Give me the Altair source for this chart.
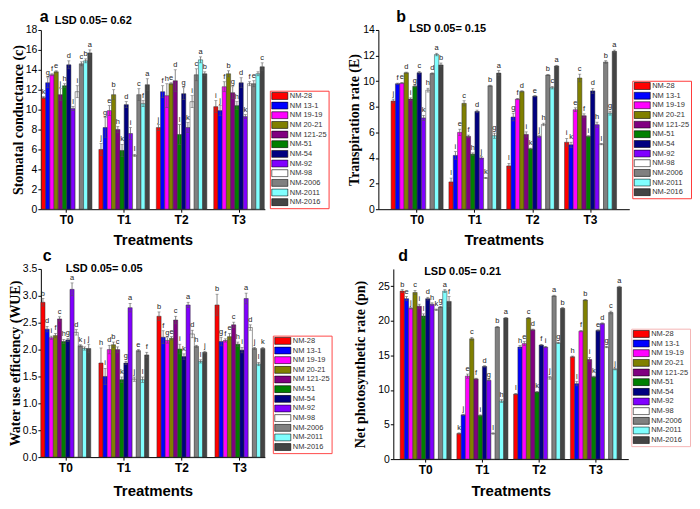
import altair as alt
import pandas as pd

treatments = ["T0", "T1", "T2", "T3"]
genotypes = ["NM-28", "NM 13-1", "NM 19-19", "NM 20-21", "NM 121-25", "NM-51",
             "NM-54", "NM-92", "NM-98", "NM-2006", "NM-2011", "NM-2016"]
colors = ["#ff0000", "#0000ff", "#ff00ff", "#808000", "#800080", "#008000",
          "#000080", "#8000ff", "#ffffff", "#808080", "#80ffff", "#444444"]

# (a) Stomatal conductance
sc_values = [
    [11.2, 12.7, 13.5, 13.8, 11.5, 12.4, 14.5, 10.1, 11.8, 14.6, 14.9, 15.7],
    [6.0, 8.2, 9.9, 11.5, 8.0, 5.9, 10.5, 7.6, 5.4, 11.5, 10.6, 12.5],
    [8.2, 11.8, 11.4, 12.6, 12.9, 7.5, 11.6, 8.2, 10.8, 13.5, 15.0, 13.6],
    [10.3, 9.9, 12.3, 13.6, 11.7, 10.4, 12.7, 9.3, 12.6, 12.6, 13.6, 14.3],
]
sc_errors = [
    [0.1, 0.5, 0.1, 0.1, 0.6, 0.2, 0.4, 0.2, 0.6, 0.2, 0.2, 0.3],
    [0.6, 1.0, 0.5, 0.5, 0.3, 0.6, 0.3, 0.6, 0.1, 0.6, 0.3, 0.6],
    [0.3, 0.6, 1.2, 0.1, 1.1, 1.0, 0.6, 0.5, 0.6, 0.6, 0.3, 0.2],
    [0.6, 0.5, 0.5, 0.3, 0.6, 0.4, 0.5, 0.2, 0.2, 0.3, 0.2, 0.4],
]
sc_letters = [
    ["k", "g", "f", "e", "j", "h", "d", "l", "i", "c", "b", "a"],
    ["j", "g", "e", "b", "h", "k", "d", "i", "l", "c", "f", "a"],
    ["j", "f", "h", "e", "d", "l", "g", "k", "i", "c", "a", "b"],
    ["i", "j", "f", "b", "g", "h", "d", "k", "f", "e", "", "c"],
]

# (b) Transpiration rate
tr_values = [
    [8.45, 9.8, 9.85, 10.66, 8.6, 9.6, 10.66, 7.13, 9.3, 10.6, 12.08, 11.27],
    [2.13, 4.2, 6.0, 8.27, 5.69, 4.3, 7.64, 4.0, 2.44, 9.64, 5.74, 10.63],
    [3.38, 7.2, 8.6, 9.2, 5.84, 4.72, 8.83, 5.69, 6.62, 10.48, 9.49, 11.19],
    [5.23, 5.03, 7.77, 10.25, 7.3, 5.69, 9.24, 6.6, 5.08, 11.5, 7.5, 12.33],
]
tr_errors = [
    [0.15, 0.05, 0.05, 0.05, 0.1, 0.05, 0.1, 0.2, 0.15, 0.05, 0.1, 0.15],
    [0.3, 0.3, 0.25, 0.2, 0.1, 0.1, 0.1, 0.1, 0.05, 0.05, 0.2, 0.2],
    [0.2, 0.3, 0.05, 0.05, 0.2, 0.05, 0.05, 0.1, 0.1, 0.05, 0.1, 0.05],
    [0.3, 0.2, 0.15, 0.3, 0.15, 0.05, 0.2, 0.2, 0.05, 0.1, 0.15, 0.1],
]
tr_letters = [
    ["j", "f", "e", "d", "i", "g", "c", "k", "h", "d", "a", "b"],
    ["l", "i", "e", "c", "f", "h", "d", "j", "k", "b", "g", "a"],
    ["l", "g", "f", "d", "i", "k", "e", "j", "h", "b", "c", "a"],
    ["i", "k", "e", "c", "f", "i", "d", "h", "l", "b", "g", "a"],
]

# (c) Water use efficiency
wue_values = [
    [2.88, 2.38, 2.22, 2.26, 2.57, 2.15, 2.18, 3.12, 2.32, 2.07, 2.02, 2.02],
    [1.75, 1.5, 2.0, 2.09, 2.0, 1.44, 1.75, 2.78, 1.45, 1.98, 1.44, 1.9],
    [2.62, 2.23, 2.17, 2.21, 2.55, 2.01, 1.87, 2.83, 2.29, 2.06, 1.78, 1.95],
    [2.83, 2.15, 2.17, 2.24, 2.46, 2.1, 1.99, 2.95, 2.41, 2.02, 1.73, 2.02],
]
wue_errors = [
    [0.07, 0.05, 0.03, 0.04, 0.04, 0.04, 0.03, 0.12, 0.05, 0.02, 0.03, 0.08],
    [0.28, 0.15, 0.08, 0.05, 0.05, 0.05, 0.03, 0.08, 0.04, 0.02, 0.05, 0.05],
    [0.08, 0.12, 0.05, 0.03, 0.07, 0.09, 0.05, 0.05, 0.07, 0.02, 0.03, 0.02],
    [0.2, 0.08, 0.03, 0.06, 0.05, 0.04, 0.05, 0.1, 0.05, 0.02, 0.03, 0.02],
]
wue_letters = [
    ["b", "d", "i", "f", "c", "h", "g", "a", "d", "k", "l", "j"],
    ["h", "i", "d", "b", "c", "k", "g", "a", "j", "e", "l", "f"],
    ["b", "f", "g", "e", "c", "i", "k", "a", "d", "h", "l", "j"],
    ["b", "g", "f", "e", "c", "h", "i", "a", "d", "j", "l", "k"],
]

# (d) Net photosynthetic rate
pn_values = [
    [24.3, 23.2, 21.8, 24.1, 22.1, 20.7, 23.2, 22.4, 21.6, 22.0, 24.3, 22.8],
    [3.7, 6.4, 12.0, 17.4, 11.6, 6.3, 13.4, 11.4, 3.7, 19.1, 8.4, 20.4],
    [9.4, 16.2, 16.7, 20.4, 18.7, 9.7, 16.5, 16.2, 11.75, 23.6, 16.8, 21.8],
    [14.8, 10.9, 18.5, 23.0, 14.4, 11.9, 18.6, 19.6, 16.2, 21.2, 13.0, 24.9],
]
pn_errors = [
    [0.2, 0.3, 0.1, 0.3, 0.3, 0.3, 0.2, 0.2, 0.1, 0.1, 0.2, 0.7],
    [0.1, 0.1, 0.3, 0.2, 0.1, 0.1, 0.1, 0.1, 0.1, 0.1, 0.2, 0.1],
    [0.1, 0.2, 0.3, 0.1, 0.1, 0.1, 0.1, 0.1, 0.2, 0.1, 0.1, 0.1],
    [0.1, 0.3, 0.1, 0.1, 0.3, 0.1, 0.1, 0.1, 0.1, 0.2, 0.1, 0.1],
]
pn_letters = [
    ["b", "e", "j", "c", "i", "l", "d", "h", "k", "g", "a", "f"],
    ["k", "j", "e", "c", "f", "i", "d", "g", "l", "b", "h", "a"],
    ["l", "h", "e", "c", "d", "k", "f", "i", "j", "a", "g", "b"],
    ["h", "l", "f", "b", "i", "k", "e", "d", "g", "c", "j", "a"],
]

FONT = "Liberation Sans"
SERIF = "Liberation Serif"


def make_df(values, errors, letters):
    rows = []
    for ti, t in enumerate(treatments):
        for gi, g in enumerate(genotypes):
            v = values[ti][gi]
            e = errors[ti][gi]
            rows.append({"Treatment": t, "Genotype": g, "value": v,
                         "lo": v - e, "hi": v + e, "letter": letters[ti][gi]})
    return pd.DataFrame(rows)


def panel(values, errors, letters, ymax, ticks, fmt, ytitle, tag, lsd,
          width, height, pad_in, pad_out, ytp, xtp, legx, legy, legstroke,
          tagx, tagy, lsdx, lsdy):
    df = make_df(values, errors, letters)
    yscale = alt.Scale(domain=[0, ymax], nice=False, zero=True)
    yaxis = alt.Axis(values=ticks, format=fmt, title=ytitle, titleFont=SERIF,
                     titleFontSize=14, titleFontWeight="bold", titlePadding=ytp,
                     labelFont=FONT, labelFontSize=10.5, labelColor="black",
                     labelOverlap=False, tickSize=3, tickColor="black",
                     domainColor="black", grid=False, labelPadding=1)
    xaxis = alt.Axis(title="Treatments", labelAngle=0, labelFont=FONT,
                     labelFontSize=12, labelFontWeight="bold", labelColor="black",
                     titleFont=FONT, titleFontSize=15, titleFontWeight="bold",
                     titlePadding=xtp, tickSize=3, tickColor="black",
                     domainColor="black", labelPadding=2)
    base = alt.Chart(df).encode(
        x=alt.X("Treatment:N", sort=treatments, axis=xaxis,
                scale=alt.Scale(paddingInner=pad_in, paddingOuter=pad_out)),
        xOffset=alt.XOffset("Genotype:N", sort=genotypes,
                            scale=alt.Scale(paddingInner=0, paddingOuter=0)),
    )
    bars = base.mark_bar(stroke="#333333", strokeWidth=0.5).encode(
        y=alt.Y("value:Q", scale=yscale, axis=yaxis),
        color=alt.Color("Genotype:N", sort=genotypes,
                        scale=alt.Scale(domain=genotypes, range=colors),
                        legend=alt.Legend(
                            orient="none", legendX=legx, legendY=legy,
                            title=None, strokeColor=legstroke,
                            padding=1, symbolType="M-2.3,-1L2.3,-1L2.3,1L-2.3,1Z",
                            symbolSize=49, symbolOffset=5,
                            symbolStrokeColor="black",
                            symbolStrokeWidth=0.6, labelFont=FONT,
                            labelFontSize=7.5, labelColor="#333333",
                            clipHeight=8.5, rowPadding=0.7, labelOffset=6)),
    )
    err = base.mark_rule(color="#555555", strokeWidth=0.7).encode(
        y=alt.Y("lo:Q", scale=yscale, axis=yaxis), y2="hi:Q")
    cap_hi = base.mark_tick(color="#555555", size=3, thickness=0.7).encode(
        y=alt.Y("hi:Q", scale=yscale, axis=yaxis))
    cap_lo = base.mark_tick(color="#555555", size=3, thickness=0.7).encode(
        y=alt.Y("lo:Q", scale=yscale, axis=yaxis))
    txt = base.mark_text(baseline="bottom", dy=-1, font=FONT, fontSize=7.5,
                         color="#222222").encode(
        y=alt.Y("hi:Q", scale=yscale, axis=yaxis), text="letter:N")
    tag_t = alt.Chart(pd.DataFrame({"t": [tag]})).mark_text(
        align="left", baseline="top", font=FONT, fontSize=16,
        fontWeight="bold", color="black").encode(
        x=alt.value(tagx), y=alt.value(tagy), text="t:N")
    lsd_t = alt.Chart(pd.DataFrame({"t": [lsd]})).mark_text(
        align="left", baseline="middle", font=FONT, fontSize=11,
        fontWeight="bold", color="black").encode(
        x=alt.value(lsdx), y=alt.value(lsdy), text="t:N")
    return alt.layer(bars, err, cap_hi, cap_lo, txt, tag_t, lsd_t).properties(
        width=width, height=height)


pa = panel(sc_values, sc_errors, sc_letters, 18, list(range(0, 19, 2)), "d",
           "Stomatal conductance (c)", "a", "LSD 0.05= 0.62",
           225, 180, 0.12, 0.01, 0, 7, 230, 61, "#ff3b3b",
           -1, -21, 14, -9)
pb = panel(tr_values, tr_errors, tr_letters, 14, list(range(0, 15, 2)), "d",
           "Transpiration rate (E)", "b", "LSD 0.05= 0.15",
           252, 180, 0.1, 0.22, 1, 7, 255, 51, "#ff3b3b",
           18, -21, 31, -1)
pc = panel(wue_values, wue_errors, wue_letters, 3.5,
           [0, 0.5, 1.0, 1.5, 2.0, 2.5, 3.0, 3.5], ".1f",
           "Water use efficiency (WUE)", "c", "LSD 0.05= 0.05",
           225, 189, 0.14, 0.0, 0, 11, 233, 67, "#ff4a4a",
           2, -21, 25, 0)
pd_ = panel(pn_values, pn_errors, pn_letters, 27.5, [0, 5, 10, 15, 20, 25], "d",
            "Net photosynthetic rate (pn)", "d", "LSD 0.05= 0.21",
            236, 191, 0.1, 0.12, 10, 9, 239, 60, "#f5b5b5",
            5, -21, 31, 3)

row1 = alt.hconcat(pa, pb, spacing=18).resolve_scale(
    x="independent", y="independent", color="independent", xOffset="independent"
).resolve_legend(color="independent")
row2 = alt.hconcat(pc, pd_, spacing=21).resolve_scale(
    x="independent", y="independent", color="independent", xOffset="independent"
).resolve_legend(color="independent")

chart = alt.vconcat(row1, row2, spacing=1).resolve_scale(
    x="independent", y="independent", color="independent", xOffset="independent"
).resolve_legend(color="independent").properties(
    padding=0, background="white"
).configure_view(stroke=None).configure_legend(strokeWidth=1)

chart.save("out.html", embed_options={"renderer": "svg", "actions": False})
